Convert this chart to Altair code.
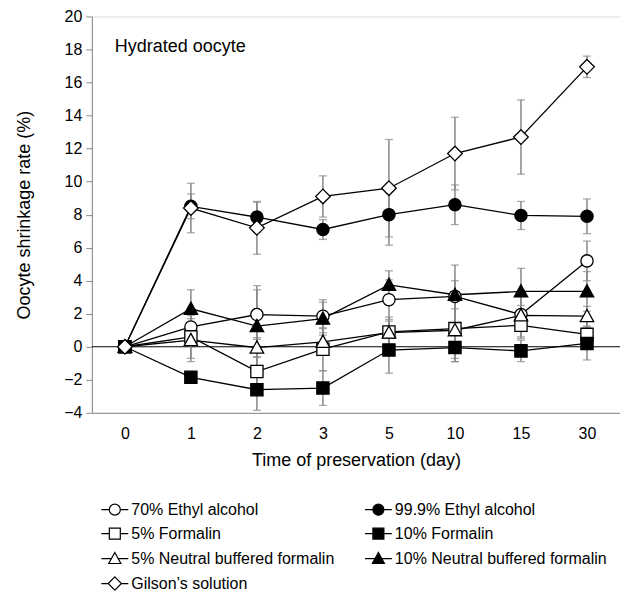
import altair as alt
import pandas as pd

days = ["0", "1", "2", "3", "5", "10", "15", "30"]
series = [
    "70% Ethyl alcohol",
    "99.9% Ethyl alcohol",
    "5% Formalin",
    "10% Formalin",
    "5% Neutral buffered formalin",
    "10% Neutral buffered formalin",
    "Gilson\u2019s solution",
]
values = [
    [0, 1.2, 1.95, 1.85, 2.85, 3.05, 1.95, 5.2],
    [0, 8.5, 7.85, 7.1, 8.0, 8.6, 7.95, 7.9],
    [0, 0.6, -1.5, -0.15, 0.9, 1.1, 1.3, 0.75],
    [0, -1.85, -2.6, -2.5, -0.2, -0.05, -0.25, 0.2],
    [0, 0.4, -0.05, 0.3, 0.85, 1.0, 1.9, 1.85],
    [0, 2.3, 1.25, 1.7, 3.75, 3.15, 3.35, 3.35],
    [0, 8.4, 7.2, 9.1, 9.6, 11.7, 12.7, 16.95],
]
errors = [
    [0, 1.0, 1.5, 1.0, 1.2, 1.9, 1.45, 1.2],
    [0, 0.75, 0.9, 0.6, 1.85, 1.2, 0.85, 1.05],
    [0, 1.3, 0.9, 1.3, 0.9, 1.8, 0.7, 0.9],
    [0, 0.3, 1.25, 1.05, 1.4, 0.85, 0.65, 1.0],
    [0, 1.3, 0.6, 0.8, 0.7, 1.9, 0.6, 0.6],
    [0, 1.15, 2.45, 1.0, 0.85, 0.85, 1.4, 1.2],
    [0, 1.5, 1.6, 1.25, 2.95, 2.2, 2.25, 0.65],
]
fills = ["white", "black", "white", "black", "white", "black", "white"]
strokes = ["black"] * 7

CIRC = "M1,0A1,1,0,1,1,-1,0A1,1,0,1,1,1,0Z"
SQ = "M-1,-1L1,-1L1,1L-1,1Z"
TRI = "M0,-1.1L1.1,0.9L-1.1,0.9Z"
DIA = "M0,-1.2L1.2,0L0,1.2L-1.2,0Z"
plot_shapes = [CIRC, CIRC, SQ, SQ, TRI, TRI, DIA]
legend_shapes = [
    "M-2.45,0L-1,0M1,0L2.45,0" + CIRC,
    "M-2.45,0L-1,0M1,0L2.45,0" + CIRC,
    "M-2.45,0L-1,0M1,0L2.45,0" + SQ,
    "M-2.45,0L-1,0M1,0L2.45,0" + SQ,
    "M-2.45,0L-0.6,0M0.6,0L2.45,0" + TRI,
    "M-2.45,0L-0.6,0M0.6,0L2.45,0" + TRI,
    "M-2.45,0L-1.2,0M1.2,0L2.45,0" + DIA,
]

rows = []
for si, s in enumerate(series):
    for di, d in enumerate(days):
        v = values[si][di]
        e = errors[si][di]
        rows.append({"series": s, "day": d, "idx": di, "value": v, "err": e,
                     "lo": v - e, "hi": v + e})
df = pd.DataFrame(rows)

FONT = "Liberation Sans"

xenc = alt.X("day:O", scale=alt.Scale(type="point", domain=days, padding=0.5),
             axis=alt.Axis(title="Time of preservation (day)", labelAngle=0,
                           ticks=False, labelPadding=13, titlePadding=10,
                           labelFontSize=16, titleFontSize=18,
                           titleFontWeight="normal"))
yscale = alt.Scale(domain=[-4, 20], nice=False, zero=False)
yaxis = alt.Axis(title="Oocyte shrinkage rate (%)", values=list(range(-4, 21, 2)),
                 tickSize=6, labelPadding=4, titlePadding=30,
                 labelFontSize=16, titleFontSize=18, grid=False,
                 titleFontWeight="normal")

base = alt.Chart(df)

zero = alt.Chart(pd.DataFrame({"z": [0]})).mark_rule(color="black", strokeWidth=1).encode(
    y=alt.Y("z:Q", scale=yscale, axis=yaxis)
)

eb = base.transform_filter("datum.err > 0")
err_rule = eb.mark_rule(color="#888888", strokeWidth=1.5).encode(
    x=xenc, y=alt.Y("lo:Q", scale=yscale, axis=yaxis), y2="hi:Q"
)
cap_lo = eb.mark_tick(color="#888888", thickness=1.3, size=8, orient="horizontal").encode(
    x=xenc, y=alt.Y("lo:Q", scale=yscale, axis=yaxis)
)
cap_hi = eb.mark_tick(color="#888888", thickness=1.3, size=8, orient="horizontal").encode(
    x=xenc, y=alt.Y("hi:Q", scale=yscale, axis=yaxis)
)

lines = base.mark_line(color="black", strokeWidth=1.3).encode(
    x=xenc, y=alt.Y("value:Q", scale=yscale, axis=yaxis),
    detail="series:N", order=alt.Order("idx:Q")
)

points = base.mark_point(filled=True, opacity=1, stroke="black", strokeWidth=1.3, size=150).encode(
    x=xenc, y=alt.Y("value:Q", scale=yscale, axis=yaxis),
    shape=alt.Shape("series:N", scale=alt.Scale(domain=series, range=plot_shapes), legend=None),
    fill=alt.Fill("series:N", scale=alt.Scale(domain=series, range=fills), legend=None),
)

leg = alt.Legend(
    title=None, orient="none", legendX=15, legendY=486, columns=2, direction="horizontal",
    labelFontSize=16, labelFont=FONT, labelColor="black", labelLimit=400,
    symbolSize=121, symbolStrokeWidth=1.2,
    labelOffset=8.5, rowPadding=8, columnPadding=28, padding=0,
)
legend_layer = base.transform_filter("false").mark_point(
    filled=True, opacity=1, strokeWidth=1.2, size=121
).encode(
    x=xenc, y=alt.Y("value:Q", scale=yscale, axis=yaxis),
    shape=alt.Shape("series:N", scale=alt.Scale(domain=series, range=legend_shapes), legend=leg),
    fill=alt.Fill("series:N", scale=alt.Scale(domain=series, range=fills), legend=leg),
    stroke=alt.Stroke("series:N", scale=alt.Scale(domain=series, range=strokes), legend=leg),
)

label = alt.Chart(pd.DataFrame({"t": ["Hydrated oocyte"]})).mark_text(
    align="left", baseline="alphabetic", fontSize=18, font=FONT, color="black"
).encode(text="t:N", x=alt.value(23), y=alt.value(36))

chart = alt.layer(
    zero, err_rule, cap_lo, cap_hi, lines, points, legend_layer, label
).resolve_scale(
    shape="independent", fill="independent", stroke="independent"
).properties(
    width=529, height=397,
    autosize=alt.AutoSizeParams(type="none"),
    padding={"left": 84, "top": 8, "right": 0, "bottom": 180},
).configure_view(
    stroke="black", strokeWidth=1
).configure_axis(
    domainColor="black", tickColor="black", labelColor="black", titleColor="black",
    labelFont=FONT, titleFont=FONT, titleFontWeight="normal", domainWidth=1,
).configure(background="white")

chart.save("out.html", embed_options={"renderer": "svg", "actions": False})
